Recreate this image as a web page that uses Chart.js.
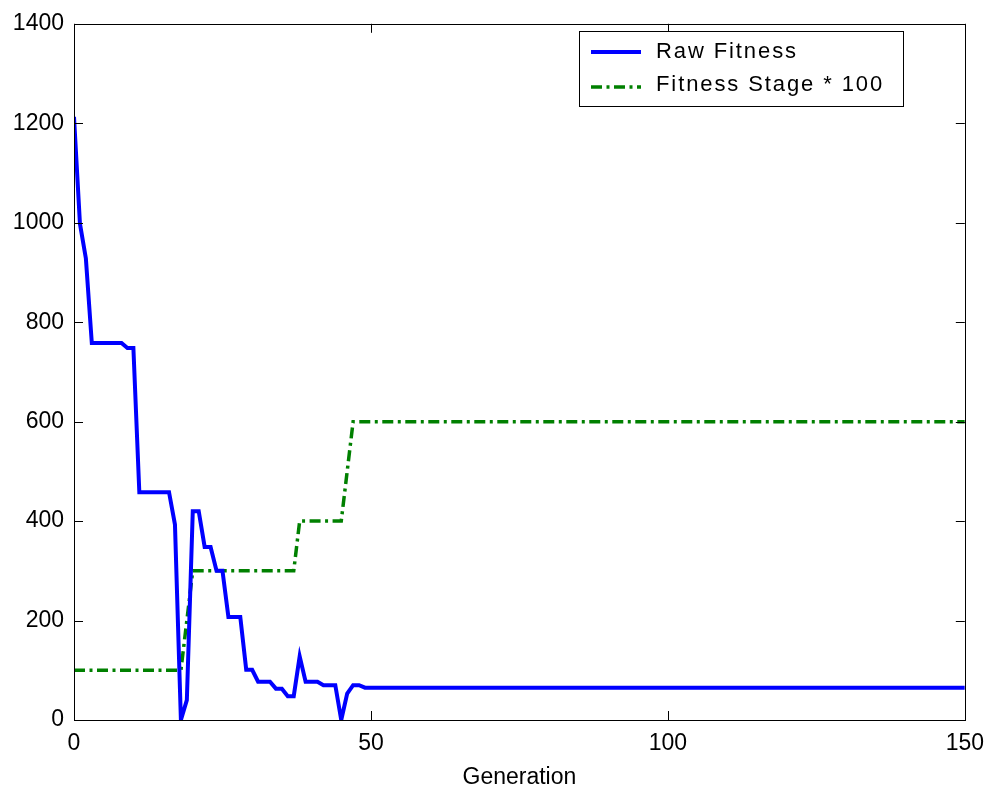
<!DOCTYPE html>
<html>
<head>
<meta charset="utf-8">
<script src="https://cdn.jsdelivr.net/npm/chart.js@4.4.0/dist/chart.umd.min.js"></script>
<style>
  html, body { margin: 0; padding: 0; background: #fff; }
</style>
</head>
<body>
<canvas id="myChart" width="994" height="791"></canvas>
<script>
// raw fitness at the generations where the line bends
var rawGen     = [0, 1, 2, 3, 8, 9, 10, 11, 16, 17, 18, 19, 20, 21, 22, 23, 24, 25, 26, 28, 29, 30, 31, 33, 34, 35, 36, 37, 38, 39, 41, 42, 44, 45, 46, 47, 48, 49, 150];
var rawFitness = [1213, 998, 928, 758, 758, 748, 748, 458, 458, 393, 0, 40, 420, 420, 348, 348, 300, 300, 207, 207, 101, 101, 77, 77, 63, 63, 48, 48, 128, 77, 77, 70, 70, 0, 53, 70, 70, 65, 65];

// fitness stage * 100
var stageGen     = [0, 18, 20, 37, 38, 45, 47, 150];
var stageFitness = [100, 100, 300, 300, 400, 400, 600, 600];

var xTicks = [0, 50, 100, 150];
var yTicks = [0, 200, 400, 600, 800, 1000, 1200, 1400];

var labels = ["Raw Fitness", "Fitness Stage * 100"];
var dashDot = [11, 4.5, 3, 4.5];

function toPoints(xs, ys) {
  return xs.map(function (x, i) { return { x: x, y: ys[i] }; });
}

// matlab style box, inward ticks and framed legend
var frame = {
  id: "frame",
  afterDatasetsDraw: function (chart) {
    var c = chart.ctx, a = chart.chartArea;
    var sx = chart.scales.x, sy = chart.scales.y;
    var tl = 9;
    c.save();
    c.strokeStyle = "#000";
    c.lineWidth = 1;
    c.strokeRect(Math.round(a.left) + 0.5, Math.round(a.top) + 0.5,
                 Math.round(a.right - a.left), Math.round(a.bottom - a.top));
    c.beginPath();
    xTicks.forEach(function (v) {
      var px = Math.round(sx.getPixelForValue(v)) + 0.5;
      c.moveTo(px, a.bottom); c.lineTo(px, a.bottom - tl);
      c.moveTo(px, a.top); c.lineTo(px, a.top + tl);
    });
    yTicks.forEach(function (v) {
      var py = Math.round(sy.getPixelForValue(v)) + 0.5;
      c.moveTo(a.left, py); c.lineTo(a.left + tl, py);
      c.moveTo(a.right, py); c.lineTo(a.right - tl, py);
    });
    c.stroke();

    // legend
    var bx = 579.5, by = 31.5, bw = 324, bh = 75;
    c.fillStyle = "#fff";
    c.fillRect(bx, by, bw, bh);
    c.strokeRect(bx, by, bw, bh);
    var rows = [52, 85];
    chart.data.datasets.forEach(function (ds, i) {
      c.beginPath();
      c.strokeStyle = ds.borderColor;
      c.lineWidth = ds.borderWidth;
      c.setLineDash(ds.borderDash || []);
      c.moveTo(591, rows[i] + (i ? 2 : 0));
      c.lineTo(641, rows[i] + (i ? 2 : 0));
      c.stroke();
      c.setLineDash([]);
      c.fillStyle = "#000";
      c.font = "22px 'Liberation Sans', Arial, sans-serif";
      c.letterSpacing = "1.9px";
      c.textBaseline = "middle";
      c.textAlign = "left";
      c.fillText(ds.label, 656, rows[i]);
    });
    c.restore();
  }
};

var tickFont = { family: "'Liberation Sans', Arial, sans-serif", size: 23 };

var chart = new Chart(document.getElementById("myChart"), {
  type: "line",
  data: {
    datasets: [{
      label: labels[0],
      data: toPoints(rawGen, rawFitness),
      borderColor: "#0000ff",
      borderWidth: 4,
      pointRadius: 0,
      tension: 0,
      fill: false
    }, {
      label: labels[1],
      data: toPoints(stageGen, stageFitness),
      borderColor: "#008000",
      borderWidth: 3.5,
      borderDash: dashDot,
      pointRadius: 0,
      tension: 0,
      fill: false
    }]
  },
  options: {
    responsive: false,
    animation: false,
    layout: { padding: { top: 19, right: 28, left: 0, bottom: 0 } },
    plugins: { legend: { display: false }, tooltip: { enabled: false } },
    scales: {
      x: {
        type: "linear",
        min: 0, max: 150,
        afterBuildTicks: function (s) { s.ticks = xTicks.map(function (v) { return { value: v }; }); },
        afterFit: function (s) { s.height = 71; },
        grid: { display: false, drawTicks: false, tickLength: 0 },
        border: { display: false },
        ticks: { color: "#000", font: tickFont, padding: 10, maxRotation: 0, autoSkip: false,
                 callback: function (v) { return String(v); } },
        title: { display: true, text: "Generation", color: "#000", font: tickFont, padding: { top: 0, bottom: 0 } }
      },
      y: {
        min: 0, max: 1400,
        afterBuildTicks: function (s) { s.ticks = yTicks.map(function (v) { return { value: v }; }); },
        afterFit: function (s) { s.width = 74; },
        grid: { display: false, drawTicks: false, tickLength: 0 },
        border: { display: false },
        ticks: { color: "#000", font: tickFont, padding: 10, autoSkip: false,
                 callback: function (v) { return String(v); } }
      }
    }
  },
  plugins: [frame]
});
</script>
</body>
</html>
